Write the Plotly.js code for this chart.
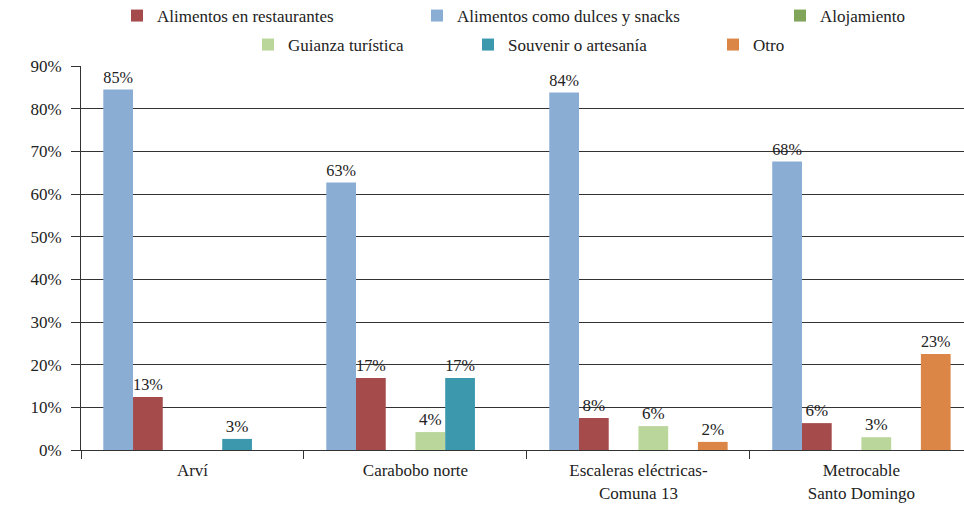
<!DOCTYPE html>
<html>
<head>
<meta charset="utf-8">
<script src="https://cdn.plot.ly/plotly-3.0.1.min.js"></script>
<style>html,body{margin:0;padding:0;background:#fff}#chart{width:964px;height:507px}
#chart text{font-family:"Liberation Serif","DejaVu Serif",serif !important}</style>
</head>
<body>
<div id="chart"></div>
<script>
const categories = ["Arví", "Carabobo norte", "Escaleras eléctricas-<br>Comuna 13", "Metrocable<br>Santo Domingo"];
const seriesNames = ["Alimentos como dulces y snacks", "Alimentos en restaurantes", "Alojamiento", "Guianza turística", "Souvenir o artesanía", "Otro"];
const dulces = [84.5, 62.7, 83.8, 67.6];
const restaurantes = [12.4, 16.9, 7.5, 6.3];
const alojamiento = [null, null, null, null];
const guianza = [null, 4.2, 5.6, 3.0];
const souvenir = [2.6, 16.9, null, null];
const otro = [null, null, 1.9, 22.5];
const dulcesLabels = ["85%", "63%", "84%", "68%"];
const restaurantesLabels = ["13%", "17%", "8%", "6%"];
const alojamientoLabels = [null, null, null, null];
const guianzaLabels = [null, "4%", "6%", "3%"];
const souvenirLabels = ["3%", "17%", null, null];
const otroLabels = [null, null, "2%", "23%"];
const yTickVals = [0, 10, 20, 30, 40, 50, 60, 70, 80, 90];
const yTickText = ["0%", "10%", "20%", "30%", "40%", "50%", "60%", "70%", "80%", "90%"];

const colors = ["#8AADD4", "#A64B4B", "#80A55A", "#BAD69A", "#3C98AD", "#DB8646"];
const values = [dulces, restaurantes, alojamiento, guianza, souvenir, otro];
const labels = [dulcesLabels, restaurantesLabels, alojamientoLabels, guianzaLabels, souvenirLabels, otroLabels];
// legend placement: [legend id, x (px), y (px)]
const legendPos = [["legend2", 437, 16], ["legend", 137, 16], ["legend3", 800, 16], ["legend4", 268, 45], ["legend5", 488, 45], ["legend6", 733, 45]];
const FONT = "Liberation Serif, DejaVu Serif, serif";
const W = 964, H = 507;

const traces = values.map((v, i) => ({
  type: "bar",
  name: seriesNames[i],
  x: categories,
  y: v,
  text: labels[i],
  textposition: "outside",
  cliponaxis: false,
  textfont: {family: FONT, size: 17, color: "#222222"},
  marker: {color: colors[i]},
  legend: legendPos[i][0],
  hoverinfo: "x+y+name"
}));

const layout = {
  width: W, height: H,
  margin: {l: 81, r: 0, t: 66, b: 57},
  paper_bgcolor: "#fff", plot_bgcolor: "#fff",
  font: {family: FONT, size: 17},
  barmode: "group",
  bargap: 0.2,
  bargroupgap: 0,
  showlegend: true,
  xaxis: {
    type: "category",
    range: [-0.5, 3.46],
    tickson: "boundaries",
    ticks: "outside", ticklen: 8, tickcolor: "#333333",
    ticklabelstandoff: 5,
    showline: true, linecolor: "#333333", linewidth: 1,
    showgrid: false,
    tickfont: {family: FONT, size: 17, color: "#222222"}
  },
  yaxis: {
    range: [0, 90],
    tickmode: "array",
    tickvals: yTickVals,
    ticktext: yTickText,
    ticks: "outside", ticklen: 9, tickcolor: "#333333",
    ticklabelstandoff: 6,
    showline: true, linecolor: "#333333", linewidth: 1,
    showgrid: true, gridcolor: "#333333", gridwidth: 1,
    zeroline: false,
    tickfont: {family: FONT, size: 17, color: "#222222"}
  }
};
legendPos.forEach(([id, px, py]) => {
  layout[id] = {
    orientation: "h",
    xref: "container", yref: "container",
    x: (px - 20) / W, y: 1 - py / H,
    xanchor: "left", yanchor: "middle",
    bgcolor: "rgba(0,0,0,0)", borderwidth: 0,
    font: {family: FONT, size: 17, color: "#222222"},
    itemclick: false
  };
});

Plotly.newPlot("chart", traces, layout, {displayModeBar: false, staticPlot: true});
</script>
</body>
</html>
